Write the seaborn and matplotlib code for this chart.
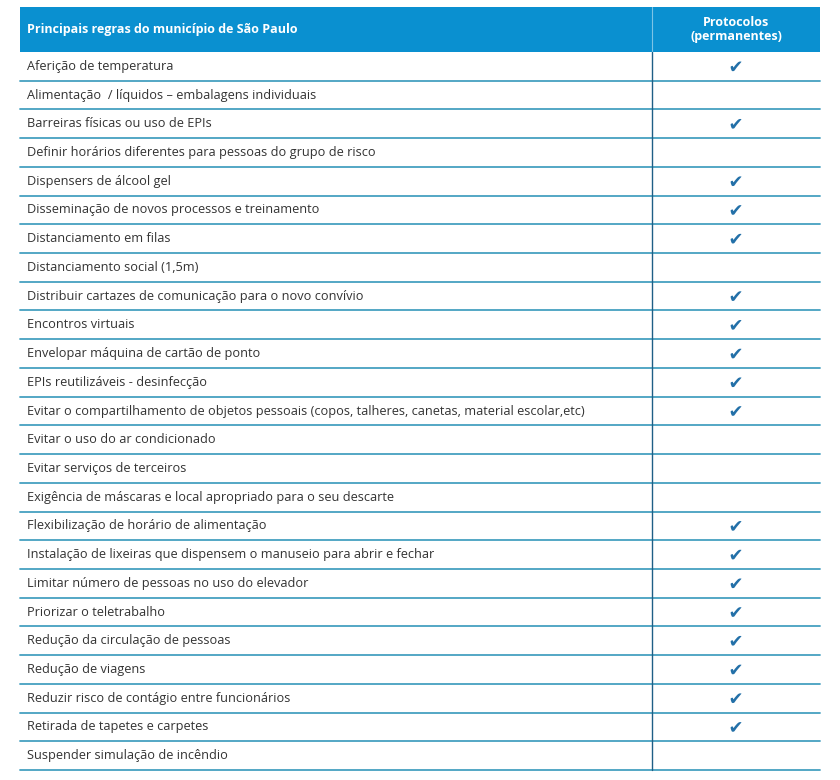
import matplotlib
matplotlib.use("Agg")
import matplotlib.pyplot as plt
import seaborn as sns
import pandas as pd
import numpy as np

header_left = "Principais regras do município de São Paulo"
header_right = "Protocolos\n(permanentes)"

rules = [
    "Aferição de temperatura",
    "Alimentação  / líquidos – embalagens individuais",
    "Barreiras físicas ou uso de EPIs",
    "Definir horários diferentes para pessoas do grupo de risco",
    "Dispensers de álcool gel",
    "Disseminação de novos processos e treinamento",
    "Distanciamento em filas",
    "Distanciamento social (1,5m)",
    "Distribuir cartazes de comunicação para o novo convívio",
    "Encontros virtuais",
    "Envelopar máquina de cartão de ponto",
    "EPIs reutilizáveis - desinfecção",
    "Evitar o compartilhamento de objetos pessoais (copos, talheres, canetas, material escolar,etc)",
    "Evitar o uso do ar condicionado",
    "Evitar serviços de terceiros",
    "Exigência de máscaras e local apropriado para o seu descarte",
    "Flexibilização de horário de alimentação",
    "Instalação de lixeiras que dispensem o manuseio para abrir e fechar",
    "Limitar número de pessoas no uso do elevador",
    "Priorizar o teletrabalho",
    "Redução da circulação de pessoas",
    "Redução de viagens",
    "Reduzir risco de contágio entre funcionários",
    "Retirada de tapetes e carpetes",
    "Suspender simulação de incêndio",
]
permanent = [1, 0, 1, 0, 1, 1, 1, 0, 1, 1, 1, 1, 1, 0, 0, 0, 1, 1, 1, 1, 1, 1, 1, 1, 0]

df = pd.DataFrame({"rule": rules, "permanent": permanent})
df["row"] = np.arange(len(df))

# layout (pixels)
W, H = 840, 780
left, right, divider = 20, 820, 652
top, header_bottom, bottom = 7, 52, 770
n = len(df)
row_h = (bottom - header_bottom) / n
df["y"] = header_bottom + row_h * (df["row"] + 0.5)
df["x"] = (divider + right) / 2

sns.set_theme(style="white")
plt.rcParams["font.family"] = ["Open Sans", "DejaVu Sans"]

fig = plt.figure(figsize=(8.4, 7.8), dpi=100)
ax = fig.add_axes([0, 0, 1, 1])

header_col = "#0a90d0"
line_col = "#45a0c0"
check_col = "#2370a8"

ax.add_patch(plt.Rectangle((left, top), right - left, header_bottom - top,
                           facecolor=header_col, edgecolor="none", zorder=1))
ax.plot([divider, divider], [top, header_bottom], color="#7cc4e6", lw=0.8, zorder=2)
ax.text(left + 7, (top + header_bottom) / 2, header_left, color="white",
        fontsize=9.0, fontweight="bold", va="center", ha="left", zorder=3)
ax.text((divider + right) / 2, (top + header_bottom) / 2, header_right, color="white",
        fontsize=9.0, fontweight="bold", va="center", ha="center",
        linespacing=1.05, zorder=3)

for _, r in df.iterrows():
    ax.text(left + 7, r["y"], r["rule"], color="#333333", fontsize=9.15,
            va="center", ha="left", zorder=3)
    yl = r["y"] + row_h / 2
    ax.plot([left, right], [yl, yl], color=line_col, lw=1.3, zorder=2)

ax.plot([divider, divider], [header_bottom, bottom], color="#1f5f86", lw=1.0, zorder=2)

sns.scatterplot(data=df[df["permanent"] == 1], x="x", y="y", ax=ax,
                marker="$\u2714$", s=60, color=check_col, edgecolor="none",
                legend=False, zorder=4)
ax.set_xlim(0, W)
ax.set_ylim(H, 0)
ax.axis("off")

fig.savefig("out.png", dpi=100)
